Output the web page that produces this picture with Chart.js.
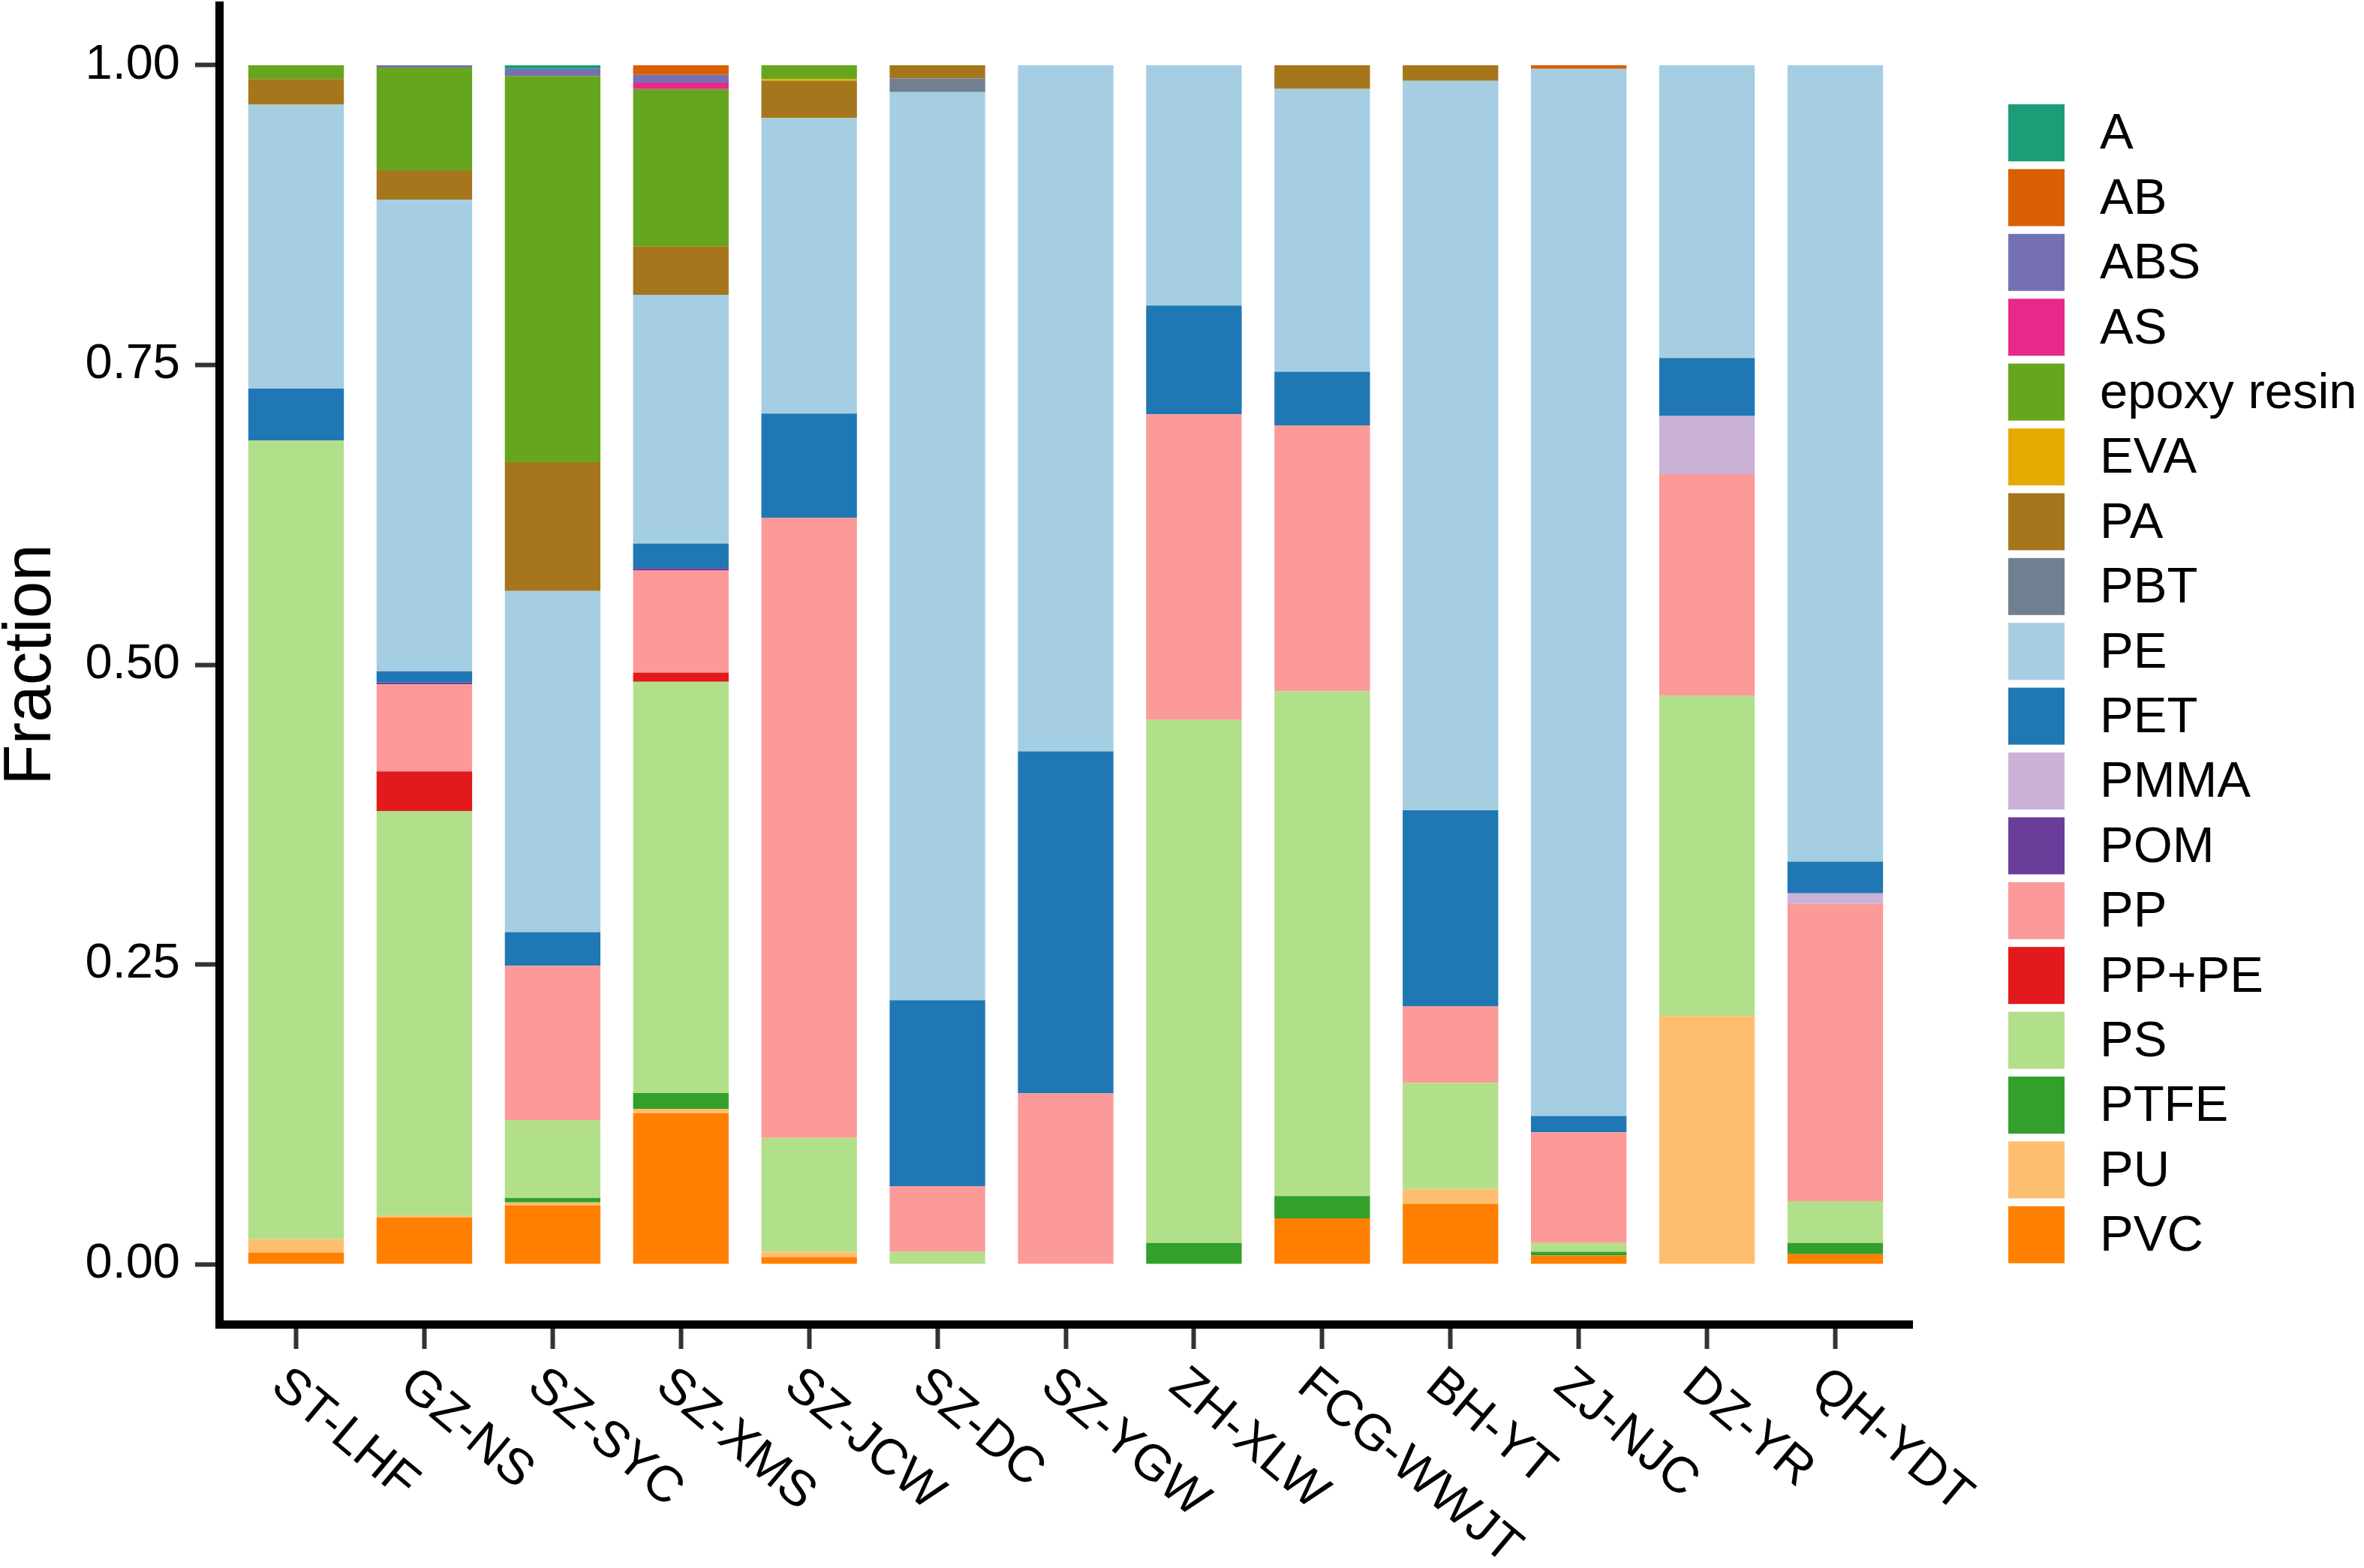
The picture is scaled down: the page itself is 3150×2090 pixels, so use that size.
<!DOCTYPE html>
<html>
<head>
<meta charset="utf-8">
<script src="https://cdn.jsdelivr.net/npm/chart.js@4.4.1/dist/chart.umd.min.js"></script>
<style>
  html, body { margin: 0; padding: 0; background: #ffffff; }
  #wrap { width: 3150px; height: 2090px; }
</style>
</head>
<body>
<div id="wrap"><canvas id="c" width="3150" height="2090"></canvas></div>
<script>
// ---- data (fractions) ----
const sites = ["ST-LHF","GZ-NS","SZ-SYC","SZ-XMS","SZ-JCW","SZ-DC","SZ-YGW","ZH-XLW","FCG-WWJT","BH-YT","ZJ-NJC","DZ-YR","QH-YDT"];
const polymers = ["A","AB","ABS","AS","epoxy resin","EVA","PA","PBT","PE","PET","PMMA","POM","PP","PP+PE","PS","PTFE","PU","PVC"];
const yTicks = [0, 0.25, 0.5, 0.75, 1.0];

const A_vals     = [0, 0, 0.003, 0, 0, 0, 0, 0, 0, 0, 0, 0, 0];
const AB_vals    = [0, 0, 0, 0.008, 0, 0, 0, 0, 0, 0, 0.0031, 0, 0];
const ABS_vals   = [0, 0.002, 0.006, 0.0064, 0, 0, 0, 0, 0, 0, 0, 0, 0];
const AS_vals    = [0, 0, 0, 0.0056, 0, 0, 0, 0, 0, 0, 0, 0, 0];
const epoxy_vals = [0.0115, 0.0856, 0.322, 0.131, 0.0115, 0, 0, 0, 0, 0, 0, 0, 0];
const EVA_vals   = [0, 0, 0, 0, 0.0015, 0, 0, 0, 0, 0, 0, 0, 0];
const PA_vals    = [0.0214, 0.0244, 0.1075, 0.0405, 0.031, 0.011, 0, 0, 0.0198, 0.0131, 0, 0, 0];
const PBT_vals   = [0, 0, 0, 0, 0, 0.0115, 0, 0, 0, 0, 0, 0, 0];
const PE_vals    = [0.2368, 0.3935, 0.2845, 0.2075, 0.2465, 0.7573, 0.5723, 0.2004, 0.2359, 0.6083, 0.8733, 0.2442, 0.6642];
const PET_vals   = [0.0434, 0.0094, 0.028, 0.0204, 0.0869, 0.1551, 0.2851, 0.0908, 0.0449, 0.1636, 0.0136, 0.0484, 0.0265];
const PMMA_vals  = [0, 0, 0, 0, 0, 0, 0, 0, 0, 0, 0, 0.0484, 0.0087];
const POM_vals   = [0, 0.0015, 0, 0.002, 0, 0, 0, 0, 0, 0, 0, 0, 0];
const PP_vals    = [0, 0.0726, 0.129, 0.0852, 0.5172, 0.0547, 0.1426, 0.2548, 0.2214, 0.0637, 0.0923, 0.185, 0.248];
const PPPE_vals  = [0, 0.033, 0, 0.0077, 0, 0, 0, 0, 0, 0, 0, 0, 0];
const PS_vals    = [0.6661, 0.3375, 0.0647, 0.343, 0.095, 0.0104, 0, 0.4363, 0.4212, 0.0883, 0.0073, 0.267, 0.0349];
const PTFE_vals  = [0, 0, 0.0038, 0.0131, 0, 0, 0, 0.0177, 0.0186, 0, 0.0031, 0, 0.0094];
const PU_vals    = [0.011, 0.0015, 0.0025, 0.0036, 0.0046, 0, 0, 0, 0, 0.0125, 0, 0.207, 0];
const PVC_vals   = [0.0098, 0.039, 0.049, 0.126, 0.0058, 0, 0, 0, 0.0382, 0.0505, 0.0073, 0, 0.0083];

const seriesValues = [A_vals, AB_vals, ABS_vals, AS_vals, epoxy_vals, EVA_vals, PA_vals, PBT_vals, PE_vals, PET_vals, PMMA_vals, POM_vals, PP_vals, PPPE_vals, PS_vals, PTFE_vals, PU_vals, PVC_vals];
const colors = ["#1B9E77","#D95F02","#7570B3","#E7298A","#66A61E","#E6AB02","#A6761D","#708090","#A6CEE3","#1F78B4","#CAB2D6","#6A3D9A","#FB9A99","#E31A1C","#B2DF8A","#33A02C","#FDBF6F","#FF7F00"];

const FONT = "'Liberation Sans', Arial, Helvetica, sans-serif";

// ggplot stacks the first level on top -> Chart.js: push datasets bottom-first
const datasets = [];
for (let k = polymers.length - 1; k >= 0; k--) {
  datasets.push({
    label: polymers[k],
    data: seriesValues[k].map((v, i) => ({x: i, y: v})),
    backgroundColor: colors[k],
    borderWidth: 0,
    barPercentage: 0.745,
    categoryPercentage: 1.0
  });
}

// Custom legend (ggplot style, top-to-bottom in factor order)
const legendPlugin = {
  id: 'ggLegend',
  afterDraw(chart) {
    const ctx = chart.ctx;
    ctx.save();
    const x0 = 2676, top0 = 139, box = 76, pitch = 86.4;
    ctx.font = "67px " + FONT;
    ctx.textBaseline = 'middle';
    ctx.textAlign = 'left';
    polymers.forEach((p, k) => {
      const y = top0 + k * pitch;
      ctx.fillStyle = colors[k];
      ctx.fillRect(x0, y, 75, box);
      ctx.fillStyle = '#000';
      ctx.fillText(p, 2798, y + box / 2 + 3);
    });
    ctx.restore();
  }
};

// Rotated x labels (slanted down to the right, left-anchored under each tick)
const xLabelPlugin = {
  id: 'xLabels',
  afterDraw(chart) {
    const ctx = chart.ctx;
    const xs = chart.scales.x;
    ctx.save();
    ctx.font = "67px " + FONT;
    ctx.fillStyle = '#000';
    ctx.textAlign = 'left';
    ctx.textBaseline = 'alphabetic';
    const ang = 40 * Math.PI / 180;
    sites.forEach((s, i) => {
      const px = xs.getPixelForValue(i);
      ctx.save();
      ctx.translate(px - 36, 1852);
      ctx.rotate(ang);
      ctx.fillText(s, 0, 0);
      ctx.restore();
    });
    ctx.restore();
  }
};

new Chart(document.getElementById('c'), {
  type: 'bar',
  data: { datasets },
  options: {
    responsive: false,
    animation: false,
    devicePixelRatio: 1,
    layout: { padding: { top: 7, right: 602, left: 0, bottom: 0 } },
    plugins: { legend: { display: false }, tooltip: { enabled: false } },
    scales: {
      x: {
        type: 'linear',
        stacked: true,
        offset: false,
        min: -0.6,
        max: 12.6,
        afterBuildTicks: (s) => { s.ticks = sites.map((_, i) => ({ value: i })); },
        afterFit: (s) => { s.height = 325; s.paddingLeft = 0; s.paddingRight = 0; },
        ticks: { display: false },
        grid: { display: true, offset: false, drawOnChartArea: false, drawTicks: true, tickLength: 33, tickWidth: 6, tickColor: '#333333' },
        border: { display: true, color: '#000000', width: 11 }
      },
      y: {
        stacked: true,
        min: -0.05,
        max: 1.05,
        afterBuildTicks: (s) => { s.ticks = yTicks.map(v => ({ value: v })); },
        afterFit: (s) => { s.width = 292; s.paddingTop = 0; s.paddingBottom = 0; },
        ticks: {
          padding: 20,
          color: '#000000',
          font: { family: FONT, size: 65 },
          callback: (v) => Number(v).toFixed(2)
        },
        grid: { display: true, drawOnChartArea: false, drawTicks: true, tickLength: 32, tickWidth: 6, tickColor: '#333333' },
        border: { display: true, color: '#000000', width: 11 },
        title: {
          display: true,
          text: 'Fraction',
          color: '#000000',
          font: { family: FONT, size: 89, lineHeight: 0.95 },
          padding: { top: 0, bottom: 0 }
        }
      }
    }
  },
  plugins: [legendPlugin, xLabelPlugin]
});
</script>
</body>
</html>
